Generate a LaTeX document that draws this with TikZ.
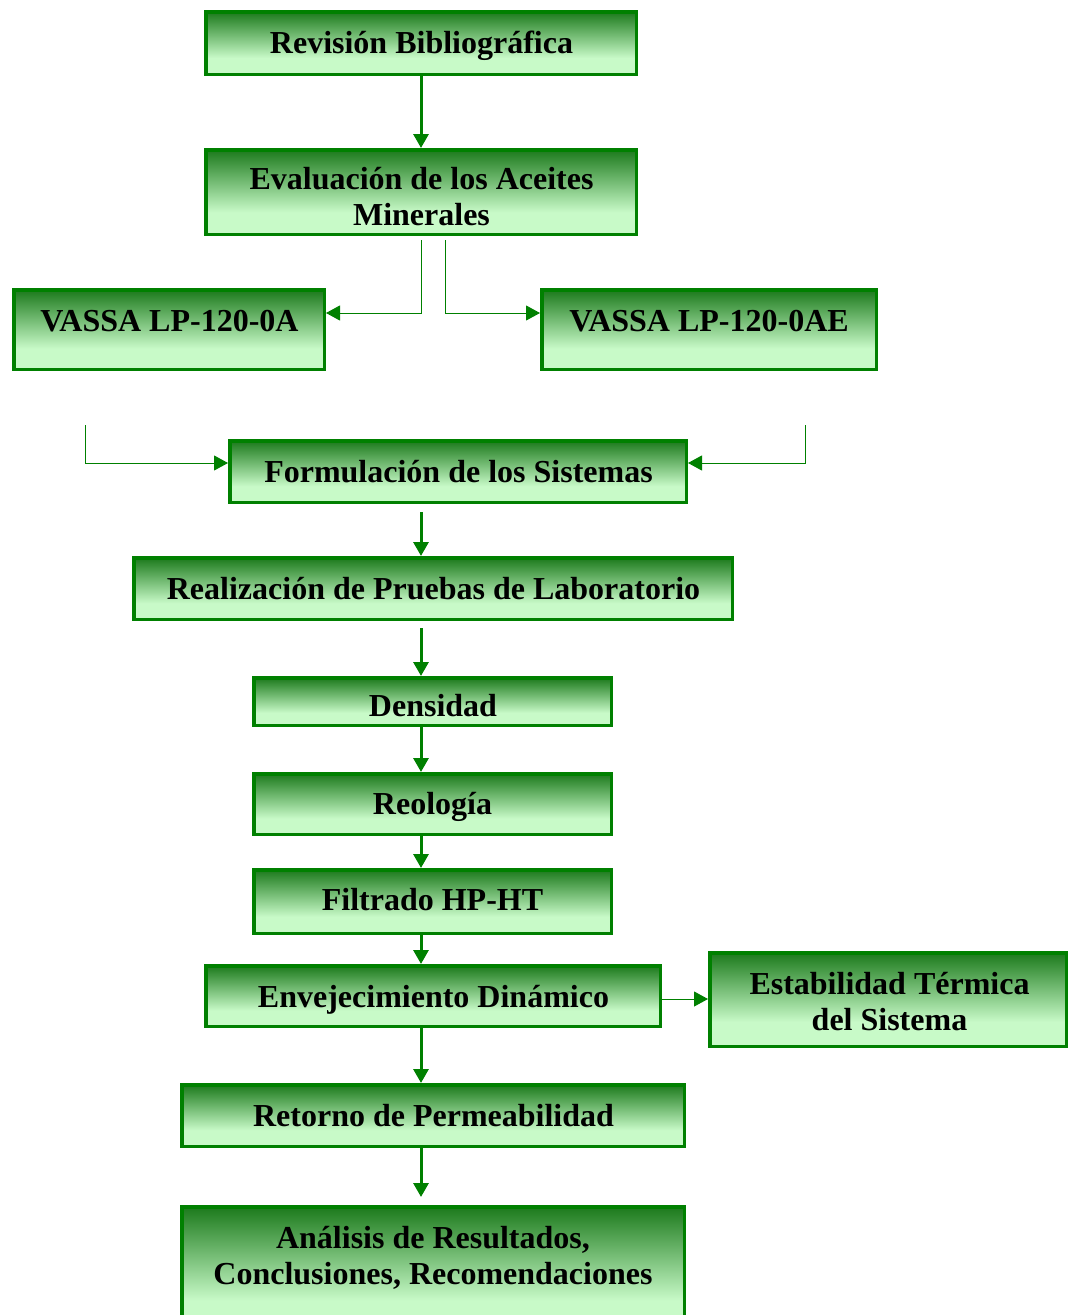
\documentclass[tikz,border=0pt]{standalone}
\usepackage{fontspec}
\setmainfont{Liberation Serif}
\usetikzlibrary{arrows.meta,calc}
\definecolor{bordergreen}{RGB}{0,128,0}
\definecolor{darkg}{RGB}{28,122,28}
\definecolor{lightg}{RGB}{200,250,200}
\pgfdeclareverticalshading{boxshade}{100bp}{color(0bp)=(lightg); color(25bp)=(lightg); color(38bp)=(lightg); color(75bp)=(darkg); color(100bp)=(darkg)}
\begin{document}
\begin{tikzpicture}[x=1pt,y=-1pt,
  box/.style={draw=bordergreen, line width=3.5pt, shading=boxshade, inner sep=0pt},
  txt/.style={font=\bfseries\fontsize{32}{36}\selectfont, align=center, inner sep=0pt, anchor=base},
  tarr/.style={draw=bordergreen, line width=3pt, -{Triangle[length=14pt,width=15pt]}},
  narr/.style={draw=bordergreen, line width=1pt, -{Triangle[length=14pt,width=15pt]}}]
\useasboundingbox (0,0) rectangle (1069,1315);
% boxes
\node[box, minimum width=430.5pt, minimum height=62.5pt] (b1) at (421,43) {};
\node[box, minimum width=430.5pt, minimum height=84.5pt] (b2) at (421,192) {};
\node[box, minimum width=310.5pt, minimum height=79.5pt] (b3) at (169,329.5) {};
\node[box, minimum width=334.5pt, minimum height=79.5pt] (b4) at (709,329.5) {};
\node[box, minimum width=456.5pt, minimum height=61.5pt] (b5) at (458,471.5) {};
\node[box, minimum width=598.5pt, minimum height=61.5pt] (b6) at (433,588.5) {};
\node[box, minimum width=357.5pt, minimum height=47.5pt] (b7) at (432.5,701.5) {};
\node[box, minimum width=357.5pt, minimum height=60.5pt] (b8) at (432.5,804) {};
\node[box, minimum width=357.5pt, minimum height=63.5pt] (b9) at (432.5,901.5) {};
\node[box, minimum width=454.5pt, minimum height=60.5pt] (b10) at (433,996) {};
\node[box, minimum width=356.5pt, minimum height=93.5pt] (b11) at (888,999.5) {};
\node[box, minimum width=502.5pt, minimum height=61.5pt] (b12) at (433,1115.5) {};
\node[box, minimum width=502.5pt, minimum height=126.5pt] (b13) at (433,1270) {};
% texts
\node[txt] (t1) at (421.5,53.5) {Revisión Bibliográfica};
\node[txt] (t2) at (421.5,225.5) {Evaluación de los Aceites\\Minerales};
\node[txt] (t3) at (169.5,331.5) {VASSA LP-120-0A};
\node[txt] (t4) at (709,331.5) {VASSA LP-120-0AE};
\node[txt] (t5) at (458.5,482.5) {Formulación de los Sistemas};
\node[txt] (t6) at (433.5,599.5) {Realización de Pruebas de Laboratorio};
\node[txt] (t7) at (433,716.5) {Densidad};
\node[txt] (t8) at (432.5,814.5) {Reología};
\node[txt] (t9) at (432.5,910.5) {Filtrado HP-HT};
\node[txt] (t10) at (433.5,1007.5) {Envejecimiento Dinámico};
\node[txt] (t11) at (889.5,1030.5) {Estabilidad Térmica\\del Sistema};
\node[txt] (t12) at (433.5,1126.5) {Retorno de Permeabilidad};
\node[txt] (t13) at (433,1284.5) {Análisis de Resultados,\\Conclusiones, Recomendaciones};
% connectors
\draw[tarr] (b1.south) -- (b2.north);
\coordinate (sA) at ($(b2.south)+(0,4)$);
\coordinate (sB) at ($(b2.south)+(24,4)$);
\draw[narr] (sA) |- ($(b3.east)+(0,-16.5)$);
\draw[narr] (sB) |- ($(b4.west)+(0,-16.5)$);
\coordinate (c1) at (85,425);
\coordinate (c2) at (805,425);
\draw[narr] (c1) |- ($(b5.west)+(0,-8.5)$);
\draw[narr] (c2) |- ($(b5.east)+(0,-8.5)$);
\coordinate (s5) at ($(b5.south)+(-37,8)$);
\draw[tarr] (s5) -- (s5 |- b6.north);
\coordinate (s6) at ($(b6.south)+(-12,7)$);
\draw[tarr] (s6) -- (s6 |- b7.north);
\coordinate (s7) at ($(b7.south)+(-11.5,0)$);
\draw[tarr] (s7) -- (s7 |- b8.north);
\coordinate (s8) at ($(b8.south)+(-11.5,0)$);
\draw[tarr] (s8) -- (s8 |- b9.north);
\coordinate (s9) at ($(b9.south)+(-11.5,0)$);
\draw[tarr] (s9) -- (s9 |- b10.north);
\coordinate (s10) at ($(b10.east)+(0,3)$);
\draw[narr] (s10) -- (s10 -| b11.west);
\coordinate (s10b) at ($(b10.south)+(-12,0)$);
\draw[tarr] (s10b) -- (s10b |- b12.north);
\coordinate (s12) at ($(b12.south)+(-12,0)$);
\coordinate (e13) at ($(b13.north)+(-12,-8)$);
\draw[tarr] (s12) -- (e13);
\end{tikzpicture}
\end{document}
